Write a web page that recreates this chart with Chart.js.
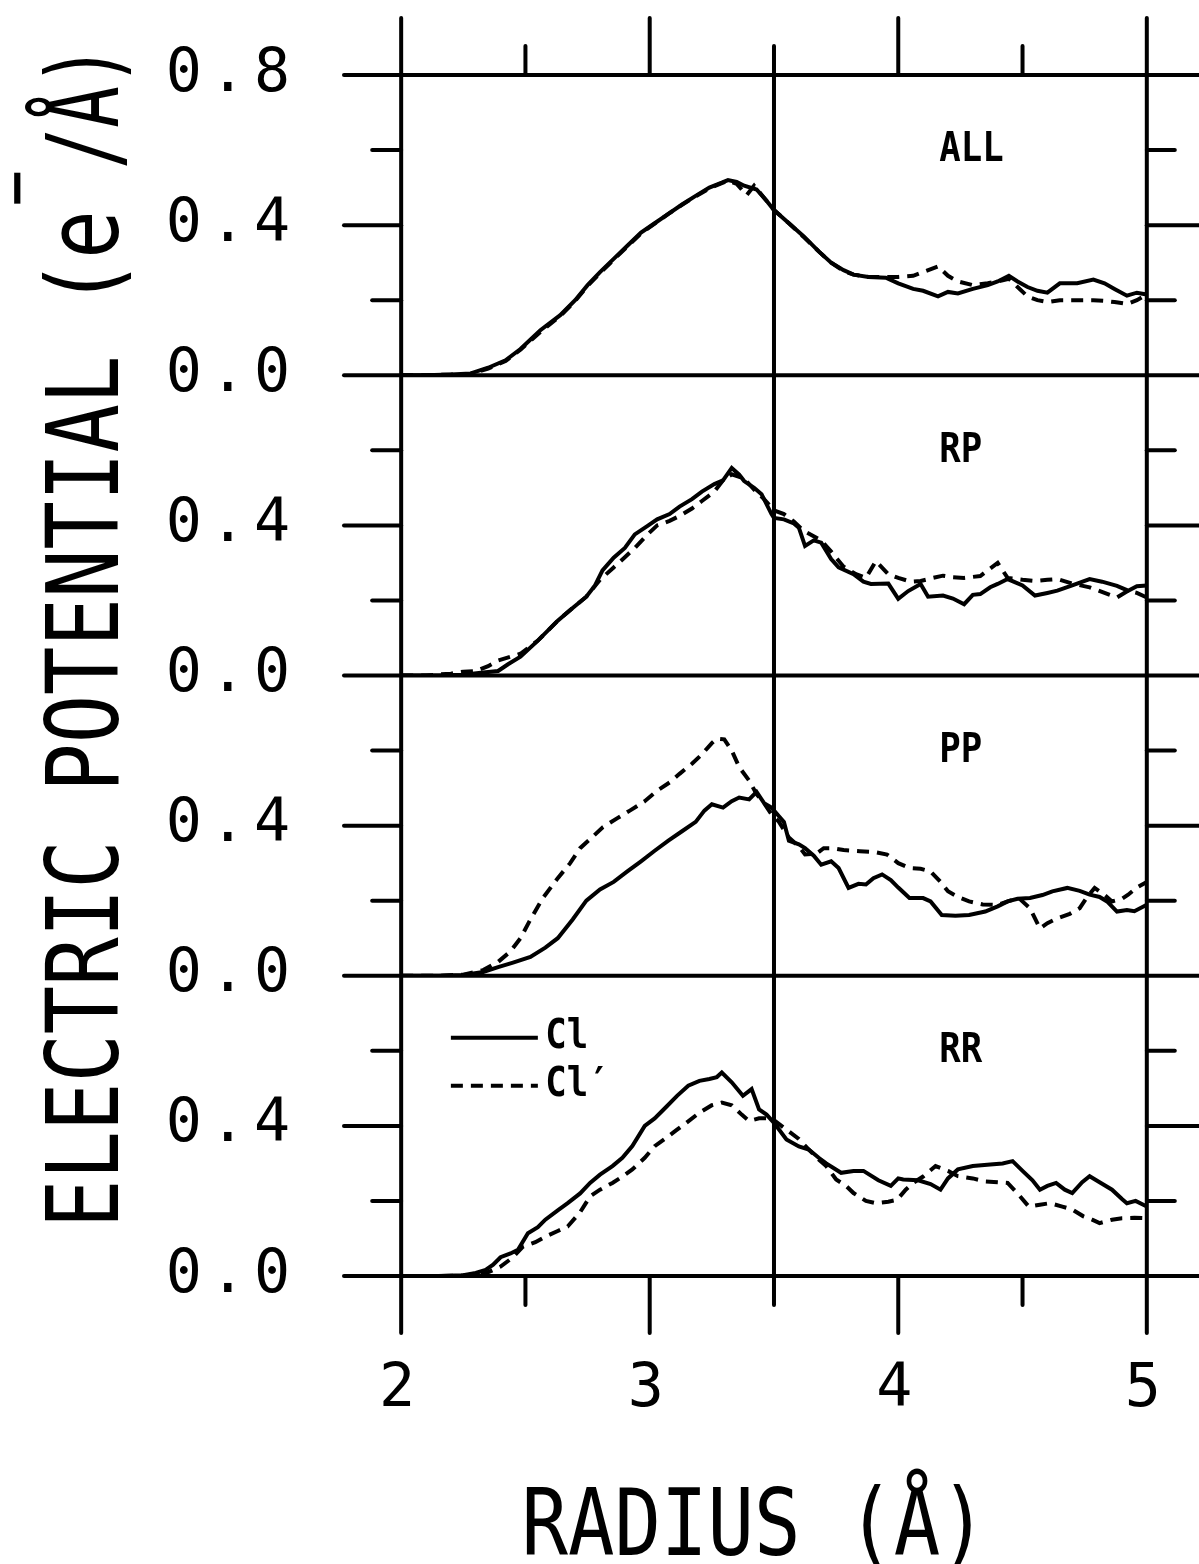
<!DOCTYPE html>
<html>
<head>
<meta charset="utf-8">
<script src="https://cdn.jsdelivr.net/npm/chart.js@4.4.1/dist/chart.umd.min.js"></script>
<style>
  html, body { margin: 0; padding: 0; background: #fff; }
  #wrap { width: 1199px; height: 1564px; }
</style>
</head>
<body>
<div id="wrap"><canvas id="potChart" width="1199" height="1564"></canvas></div>
<script>
// radius ticks (Å) and potential ticks (e-/Å)
const radiusTicks = [2, 3, 4, 5];
const potentialTicks = [0, 0.2, 0.4, 0.6, 0.8];
const panelNames = ['ALL', 'RP', 'PP', 'RR'];
const seriesNames = ['Cl', 'Cl′'];

// [radius, potential]
const allCl = [[2.0,0],[2.1,0],[2.2,0.002],[2.28,0.005],[2.35,0.02],[2.42,0.04],[2.48,0.07],[2.56,0.12],[2.64,0.16],[2.7,0.2],[2.75,0.24],[2.8,0.275],[2.855,0.31],[2.91,0.345],[2.965,0.38],[3.02,0.405],[3.075,0.43],[3.13,0.455],[3.18,0.476],[3.24,0.5],[3.29,0.513],[3.315,0.52],[3.35,0.515],[3.38,0.505],[3.43,0.495],[3.47,0.465],[3.5,0.44],[3.56,0.405],[3.62,0.37],[3.68,0.33],[3.73,0.3],[3.78,0.28],[3.82,0.268],[3.88,0.262],[3.95,0.26],[4.0,0.245],[4.06,0.23],[4.1,0.225],[4.16,0.21],[4.2,0.222],[4.24,0.218],[4.3,0.23],[4.36,0.24],[4.4,0.25],[4.445,0.265],[4.48,0.25],[4.52,0.235],[4.56,0.225],[4.6,0.22],[4.65,0.245],[4.72,0.245],[4.785,0.255],[4.83,0.245],[4.87,0.23],[4.92,0.212],[4.96,0.22],[5.0,0.215]];
const allClp = [[2.0,0],[2.1,0],[2.2,0.002],[2.28,0.004],[2.35,0.018],[2.42,0.038],[2.48,0.068],[2.56,0.115],[2.64,0.158],[2.7,0.198],[2.75,0.238],[2.8,0.272],[2.855,0.308],[2.91,0.343],[2.965,0.378],[3.02,0.404],[3.075,0.43],[3.13,0.454],[3.18,0.475],[3.24,0.498],[3.29,0.512],[3.315,0.518],[3.35,0.51],[3.39,0.48],[3.42,0.505],[3.47,0.465],[3.5,0.44],[3.56,0.405],[3.62,0.368],[3.68,0.33],[3.73,0.3],[3.78,0.278],[3.82,0.268],[3.88,0.262],[3.95,0.262],[4.0,0.262],[4.06,0.265],[4.1,0.275],[4.16,0.29],[4.2,0.265],[4.24,0.25],[4.3,0.24],[4.36,0.245],[4.4,0.25],[4.445,0.257],[4.48,0.235],[4.52,0.21],[4.56,0.2],[4.6,0.195],[4.65,0.2],[4.72,0.2],[4.785,0.2],[4.83,0.198],[4.87,0.195],[4.92,0.19],[4.96,0.2],[5.0,0.215]];

const rpCl = [[2.0,0],[2.15,0],[2.25,0.002],[2.33,0.008],[2.39,0.012],[2.43,0.03],[2.48,0.05],[2.55,0.093],[2.63,0.146],[2.69,0.18],[2.745,0.21],[2.78,0.24],[2.81,0.28],[2.855,0.314],[2.9,0.34],[2.94,0.376],[2.99,0.398],[3.03,0.416],[3.08,0.43],[3.12,0.45],[3.17,0.47],[3.21,0.49],[3.26,0.51],[3.295,0.52],[3.33,0.553],[3.36,0.535],[3.38,0.518],[3.42,0.5],[3.45,0.483],[3.49,0.43],[3.5,0.42],[3.54,0.416],[3.58,0.405],[3.6,0.394],[3.625,0.345],[3.66,0.36],[3.69,0.354],[3.73,0.31],[3.76,0.288],[3.82,0.27],[3.86,0.25],[3.89,0.244],[3.96,0.245],[4.0,0.204],[4.04,0.225],[4.09,0.244],[4.12,0.21],[4.18,0.213],[4.22,0.205],[4.265,0.19],[4.3,0.215],[4.33,0.217],[4.37,0.235],[4.4,0.244],[4.44,0.257],[4.5,0.24],[4.55,0.213],[4.6,0.22],[4.64,0.226],[4.7,0.24],[4.77,0.257],[4.82,0.25],[4.88,0.239],[4.925,0.226],[4.96,0.238],[5.0,0.24]];
const rpClp = [[2.0,0],[2.1,0],[2.2,0.005],[2.25,0.01],[2.3,0.012],[2.35,0.025],[2.39,0.04],[2.44,0.05],[2.48,0.058],[2.55,0.093],[2.63,0.146],[2.69,0.18],[2.745,0.21],[2.8,0.255],[2.855,0.288],[2.9,0.315],[2.94,0.34],[2.99,0.375],[3.03,0.4],[3.08,0.412],[3.12,0.425],[3.17,0.445],[3.21,0.465],[3.26,0.49],[3.295,0.52],[3.33,0.536],[3.38,0.525],[3.42,0.495],[3.46,0.47],[3.5,0.44],[3.54,0.43],[3.58,0.41],[3.62,0.385],[3.69,0.36],[3.73,0.33],[3.78,0.29],[3.83,0.27],[3.87,0.26],[3.91,0.305],[3.96,0.27],[4.0,0.26],[4.05,0.25],[4.09,0.252],[4.14,0.26],[4.18,0.266],[4.22,0.262],[4.265,0.26],[4.33,0.265],[4.4,0.3],[4.44,0.26],[4.5,0.255],[4.55,0.252],[4.6,0.255],[4.64,0.257],[4.7,0.245],[4.77,0.235],[4.83,0.22],[4.88,0.208],[4.925,0.226],[4.96,0.22],[5.0,0.208]];

const ppCl = [[2.0,0],[2.15,0],[2.25,0.002],[2.33,0.01],[2.39,0.023],[2.45,0.035],[2.52,0.05],[2.58,0.075],[2.63,0.1],[2.69,0.15],[2.745,0.2],[2.8,0.23],[2.855,0.25],[2.91,0.278],[2.965,0.305],[3.02,0.333],[3.075,0.36],[3.13,0.385],[3.185,0.41],[3.22,0.44],[3.25,0.457],[3.295,0.448],[3.33,0.465],[3.36,0.475],[3.4,0.47],[3.43,0.49],[3.46,0.46],[3.49,0.448],[3.52,0.425],[3.54,0.41],[3.56,0.36],[3.6,0.35],[3.625,0.34],[3.66,0.32],[3.69,0.296],[3.73,0.305],[3.76,0.287],[3.8,0.234],[3.84,0.245],[3.87,0.243],[3.9,0.26],[3.935,0.27],[3.97,0.255],[4.0,0.235],[4.045,0.207],[4.1,0.207],[4.13,0.198],[4.175,0.162],[4.23,0.16],[4.285,0.162],[4.35,0.171],[4.4,0.185],[4.44,0.198],[4.48,0.205],[4.53,0.207],[4.58,0.215],[4.62,0.225],[4.68,0.234],[4.73,0.226],[4.77,0.216],[4.81,0.21],[4.84,0.198],[4.88,0.171],[4.92,0.175],[4.95,0.172],[5.0,0.189]];
const ppClp = [[2.0,0],[2.15,0],[2.25,0.003],[2.33,0.015],[2.39,0.037],[2.44,0.065],[2.48,0.1],[2.52,0.15],[2.57,0.207],[2.63,0.26],[2.68,0.3],[2.72,0.34],[2.77,0.37],[2.81,0.395],[2.87,0.42],[2.92,0.44],[2.98,0.465],[3.03,0.493],[3.08,0.515],[3.12,0.538],[3.17,0.565],[3.21,0.59],[3.25,0.62],[3.27,0.632],[3.3,0.63],[3.33,0.6],[3.36,0.556],[3.4,0.52],[3.43,0.484],[3.46,0.46],[3.49,0.43],[3.52,0.41],[3.56,0.368],[3.6,0.345],[3.625,0.323],[3.67,0.325],[3.7,0.34],[3.735,0.34],[3.78,0.335],[3.845,0.332],[3.9,0.33],[3.955,0.323],[4.0,0.3],[4.045,0.287],[4.09,0.285],[4.13,0.278],[4.17,0.25],[4.2,0.225],[4.24,0.21],[4.285,0.198],[4.34,0.19],[4.4,0.189],[4.45,0.2],[4.485,0.207],[4.53,0.18],[4.57,0.126],[4.6,0.14],[4.64,0.153],[4.69,0.165],[4.73,0.18],[4.76,0.21],[4.79,0.234],[4.83,0.215],[4.86,0.198],[4.9,0.205],[4.925,0.216],[4.96,0.235],[5.0,0.25]];

const rrCl = [[2.0,0],[2.15,0],[2.25,0.002],[2.3,0.008],[2.34,0.016],[2.37,0.03],[2.4,0.05],[2.44,0.06],[2.47,0.07],[2.51,0.114],[2.55,0.13],[2.58,0.15],[2.63,0.175],[2.67,0.194],[2.72,0.22],[2.76,0.248],[2.8,0.27],[2.85,0.293],[2.89,0.315],[2.93,0.346],[2.98,0.4],[3.02,0.42],[3.07,0.453],[3.11,0.48],[3.155,0.507],[3.2,0.52],[3.24,0.525],[3.27,0.53],[3.29,0.542],[3.33,0.516],[3.375,0.48],[3.41,0.498],[3.44,0.444],[3.47,0.43],[3.5,0.408],[3.55,0.364],[3.6,0.345],[3.64,0.337],[3.68,0.315],[3.71,0.3],[3.77,0.275],[3.82,0.28],[3.86,0.28],[3.92,0.255],[3.97,0.24],[4.0,0.26],[4.02,0.257],[4.08,0.255],[4.13,0.245],[4.17,0.23],[4.2,0.26],[4.24,0.284],[4.3,0.293],[4.37,0.297],[4.42,0.3],[4.46,0.306],[4.5,0.28],[4.54,0.255],[4.57,0.23],[4.6,0.24],[4.635,0.248],[4.67,0.23],[4.7,0.221],[4.74,0.25],[4.77,0.266],[4.81,0.25],[4.86,0.23],[4.9,0.205],[4.92,0.194],[4.955,0.2],[5.0,0.185]];
const rrClp = [[2.0,0],[2.15,0],[2.28,0.002],[2.34,0.007],[2.4,0.025],[2.45,0.05],[2.49,0.078],[2.54,0.09],[2.58,0.105],[2.63,0.12],[2.67,0.132],[2.72,0.17],[2.76,0.212],[2.8,0.23],[2.85,0.248],[2.89,0.265],[2.93,0.284],[2.98,0.315],[3.02,0.346],[3.07,0.37],[3.11,0.39],[3.155,0.412],[3.2,0.435],[3.25,0.455],[3.29,0.462],[3.33,0.455],[3.37,0.43],[3.4,0.413],[3.44,0.42],[3.49,0.42],[3.55,0.39],[3.6,0.365],[3.64,0.337],[3.68,0.31],[3.71,0.293],[3.75,0.257],[3.79,0.24],[3.82,0.221],[3.87,0.2],[3.91,0.194],[3.96,0.198],[3.995,0.203],[4.03,0.23],[4.06,0.248],[4.1,0.265],[4.15,0.293],[4.2,0.28],[4.24,0.266],[4.3,0.26],[4.35,0.252],[4.4,0.25],[4.44,0.248],[4.48,0.22],[4.525,0.185],[4.57,0.19],[4.61,0.194],[4.66,0.185],[4.7,0.177],[4.745,0.159],[4.78,0.15],[4.81,0.141],[4.86,0.15],[4.9,0.154],[4.95,0.155],[5.0,0.154]];

const panelAxes = ['yAll', 'yRP', 'yPP', 'yRR'];
const panelSeries = [[allCl, allClp], [rpCl, rpClp], [ppCl, ppClp], [rrCl, rrClp]];

const FONT = "'DejaVu Sans Mono', monospace";
const DASH = [12, 8];

function line(ctx, x1, y1, x2, y2) {
    ctx.beginPath();
    ctx.moveTo(x1, y1);
    ctx.lineTo(x2, y2);
    ctx.stroke();
}

// text squeezed horizontally, the plotter lettering is narrow
function squash(ctx, text, x, y, sx) {
    ctx.save();
    ctx.translate(x, y);
    ctx.scale(sx, 1);
    ctx.fillText(text, 0, 0);
    ctx.restore();
    return ctx.measureText(text).width * sx;
}

// frame, tick marks, panel names, legend and axis titles
const framePlugin = {
    id: 'frame',
    beforeDraw(chart) {
        chart.ctx.letterSpacing = '8px';
    },
    beforeDatasetsDraw(chart) {
        const ctx = chart.ctx;
        ctx.letterSpacing = '0px';
        const xs = chart.scales.x;
        const area = chart.chartArea;
        const top = chart.scales.yAll.getPixelForValue(0.8);
        const bottom = chart.scales.yRR.getPixelForValue(0);
        const major = 57, minor = 29;
        ctx.save();
        ctx.strokeStyle = '#000';
        ctx.lineWidth = 4;
        ctx.lineCap = 'round';

        // panel borders
        line(ctx, area.left, top, area.right, top);
        panelAxes.forEach(id => {
            const y = chart.scales[id].getPixelForValue(0);
            line(ctx, area.left, y, area.right, y);
        });

        // vertical lines and x tick marks
        [2, 5].forEach(v => {
            const x = xs.getPixelForValue(v);
            line(ctx, x, top - major, x, bottom + major);
        });
        const xMid = xs.getPixelForValue(3.5);
        line(ctx, xMid, top - minor, xMid, bottom + minor);
        [3, 4].forEach(v => {
            const x = xs.getPixelForValue(v);
            line(ctx, x, top - major, x, top);
            line(ctx, x, bottom, x, bottom + major);
        });
        [2.5, 4.5].forEach(v => {
            const x = xs.getPixelForValue(v);
            line(ctx, x, top - minor, x, top);
            line(ctx, x, bottom, x, bottom + minor);
        });

        // y tick marks on both sides
        const xl = xs.getPixelForValue(2), xr = xs.getPixelForValue(5);
        panelAxes.forEach(id => {
            const sc = chart.scales[id];
            [0.2, 0.4, 0.6].forEach(v => {
                const y = sc.getPixelForValue(v);
                if (Math.abs(v - 0.4) < 1e-6) {
                    line(ctx, area.left, y, xl, y);
                    line(ctx, xr, y, area.right, y);
                } else {
                    line(ctx, xl - minor, y, xl, y);
                    line(ctx, xr, y, xr + minor - 1, y);
                }
            });
        });

        // panel names
        ctx.fillStyle = '#000';
        ctx.font = 'bold 41px ' + FONT;
        ctx.textAlign = 'left';
        ctx.textBaseline = 'alphabetic';
        panelAxes.forEach((id, i) => {
            squash(ctx, panelNames[i], xs.getPixelForValue(4.165), chart.scales[id].getPixelForValue(0.57), 0.87);
        });

        // legend in the RR panel
        const rr = chart.scales.yRR;
        [0.635, 0.507].forEach((v, i) => {
            const ds = chart.data.datasets[6 + i];
            const y = rr.getPixelForValue(v);
            ctx.save();
            ctx.lineWidth = ds.borderWidth;
            ctx.lineCap = 'butt';
            ctx.setLineDash(ds.borderDash || []);
            line(ctx, xs.getPixelForValue(2.2), y, xs.getPixelForValue(2.55), y);
            ctx.restore();
            ctx.textBaseline = 'middle';
            squash(ctx, seriesNames[i], xs.getPixelForValue(2.58), y, 0.87);
        });

        // x title
        ctx.font = '92px ' + FONT;
        ctx.textAlign = 'center';
        ctx.textBaseline = 'alphabetic';
        squash(ctx, 'RADIUS (Å)', xs.getPixelForValue(3.42), 1555, 0.84);

        // y title, rotated
        ctx.save();
        ctx.translate(118, 1228);
        ctx.rotate(-Math.PI / 2);
        ctx.textAlign = 'left';
        ctx.font = '100px ' + FONT;
        let pos = squash(ctx, 'ELECTRIC POTENTIAL (e', 0, 0, 0.805);
        ctx.font = '75px ' + FONT;
        squash(ctx, '−', pos + 4, -77, 0.8);
        pos += 41;
        ctx.font = '100px ' + FONT;
        squash(ctx, '/Å)', pos, 0, 0.69);
        ctx.restore();

        ctx.restore();
    }
};

function panelScale(id, weight) {
    return {
        type: 'linear',
        position: 'left',
        stack: 'panels',
        stackWeight: 1,
        weight: weight,
        min: 0,
        max: 0.8,
        afterFit(scale) {
            scale.width = 344;
            scale.paddingTop = 0;
            scale.paddingBottom = 0;
        },
        afterBuildTicks(scale) { scale.ticks = potentialTicks.map(v => ({ value: v })); },
        grid: { display: false, drawTicks: false },
        border: { display: false },
        ticks: {
            autoSkip: false,
            padding: 46,
            color: '#000',
            font: { family: FONT, size: 60 },
            callback(value) {
                const t = Math.round(value * 10);
                if (t === 0) return '0.0';
                if (t === 4) return '0.4';
                if (t === 8 && id === 'yAll') return '0.8';
                return '';
            }
        }
    };
}

const datasets = [];
panelSeries.forEach((pair, i) => {
    pair.forEach((pts, j) => {
        datasets.push({
            label: panelNames[i] + ' ' + seriesNames[j],
            data: pts,
            yAxisID: panelAxes[i],
            borderColor: '#000',
            borderWidth: 4,
            borderDash: j === 1 ? DASH : [],
            pointRadius: 0,
            tension: 0,
            fill: false
        });
    });
});

const ctx = document.getElementById('potChart').getContext('2d');
new Chart(ctx, {
    type: 'line',
    data: { datasets: datasets },
    options: {
        responsive: false,
        animation: false,
        devicePixelRatio: 1,
        events: [],
        layout: { padding: { top: 75, right: 0, bottom: 0, left: 0 } },
        plugins: {
            legend: { display: false },
            tooltip: { enabled: false }
        },
        scales: {
            x: {
                type: 'linear',
                position: 'bottom',
                min: 1.77,
                max: 5.21,
                afterFit(scale) {
                    scale.height = 1564 - 1276;
                    scale.paddingLeft = 0;
                    scale.paddingRight = 0;
                },
                afterBuildTicks(scale) { scale.ticks = radiusTicks.map(v => ({ value: v })); },
                grid: { display: false, drawTicks: false },
                border: { display: false },
                ticks: {
                    padding: 78,
                    color: '#000',
                    maxRotation: 0,
                    autoSkip: false,
                    font: { family: FONT, size: 60 },
                    callback: value => String(value)
                }
            },
            yAll: panelScale('yAll', 4),
            yRP: panelScale('yRP', 3),
            yPP: panelScale('yPP', 2),
            yRR: panelScale('yRR', 1)
        }
    },
    plugins: [framePlugin]
});
</script>
</body>
</html>
